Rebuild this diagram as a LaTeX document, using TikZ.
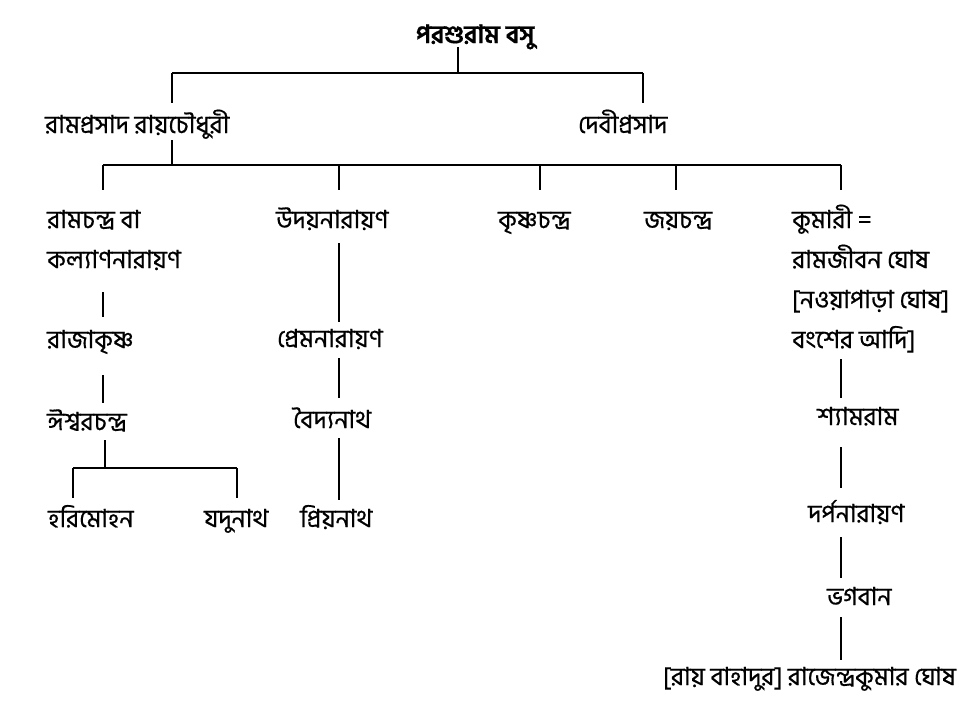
\documentclass[tikz,border=0pt]{standalone}
\usepackage{fontspec}
\newfontfamily\bn[Script=Bengali, FakeBold=0.6]{Hind Siliguri}
\begin{document}
\begin{tikzpicture}[x=1pt,y=-1pt,
  person/.style={font=\bn\fontsize{25}{40}\selectfont, inner sep=0pt, anchor=base west},
  link/.style={draw=black, line width=1.4pt}]
\useasboundingbox (0,0) rectangle (975,710);
% nodes
\node[person, anchor=base] (title) at (475,43) {\bfseries পরশুরাম বসু};
\node[person] (rp) at (45,133) {রামপ্রসাদ রায়চৌধুরী};
\node[person] (dp) at (578,133) {দেবীপ্রসাদ};
\node[person] (ram) at (47,228) {\begin{tabular}[t]{@{}l@{}}রামচন্দ্র বা\\কল্যাণনারায়ণ\end{tabular}};
\node[person] (uday) at (276,228) {উদয়নারায়ণ};
\node[person] (krish) at (498,228) {কৃষ্ণচন্দ্র};
\node[person] (jay) at (644,228) {জয়চন্দ্র};
\node[person] (kum) at (792,228) {\begin{tabular}[t]{@{}l@{}}কুমারী =\\রামজীবন ঘোষ\\{}[নওয়াপাড়া ঘোষ]\\বংশের আদি]\end{tabular}};
\node[person] (raja) at (47,348) {রাজাকৃষ্ণ};
\node[person] (ish) at (47,430) {ঈশ্বরচন্দ্র};
\node[person] (hari) at (48,527) {হরিমোহন};
\node[person] (jadu) at (204,527) {যদুনাথ};
\node[person] (prem) at (277,347) {প্রেমনারায়ণ};
\node[person] (baid) at (293,428) {বৈদ্যনাথ};
\node[person] (priy) at (300,527) {প্রিয়নাথ};
\node[person] (shyam) at (817,425) {শ্যামরাম};
\node[person] (darp) at (808,522) {দর্পনারায়ণ};
\node[person] (bhag) at (827,605) {ভগবান};
\node[person] (rajen) at (663,685) {[রায় বাহাদুর] রাজেন্দ্রকুমার ঘোষ};
% junctions
\coordinate (j0) at (458,73);
\coordinate (b0L) at (172,73);
\coordinate (b0R) at (643,73);
\coordinate (j1) at (172,165);
\coordinate (d1) at (103,165);
\coordinate (d2) at (339,165);
\coordinate (d3) at (540,165);
\coordinate (d4) at (676,165);
\coordinate (d5) at (841,165);
\coordinate (j2) at (105,468);
\coordinate (b2L) at (73,468);
\coordinate (b2R) at (237,468);
% level 0
\draw[link, shorten <=4pt] (j0 |- title.base) -- (j0);
\draw[link] (b0L) -- (b0R);
\draw[link, shorten >=30pt] (b0L) -- (b0L |- rp.base);
\draw[link, shorten >=30pt] (b0R) -- (b0R |- dp.base);
% level 1
\draw[link, shorten <=7pt] (j1 |- rp.base) -- (j1);
\draw[link] (d1) -- (d5);
\draw[link, shorten >=38pt] (d1) -- (d1 |- ram.base);
\draw[link, shorten >=38pt] (d2) -- (d2 |- uday.base);
\draw[link, shorten >=38pt] (d3) -- (d3 |- krish.base);
\draw[link, shorten >=38pt] (d4) -- (d4 |- jay.base);
\draw[link, shorten >=38pt] (d5) -- (d5 |- kum.base);
% left column
\draw[link, shorten <=64pt, shorten >=31pt] (d1 |- ram.base) -- (d1 |- raja.base);
\draw[link, shorten <=27pt, shorten >=27pt] (d1 |- raja.base) -- (d1 |- ish.base);
\draw[link, shorten <=10pt] (j2 |- ish.base) -- (j2);
\draw[link] (b2L) -- (b2R);
\draw[link, shorten >=29pt] (b2L) -- (b2L |- hari.base);
\draw[link, shorten >=29pt] (b2R) -- (b2R |- jadu.base);
% middle column
\draw[link, shorten <=15pt, shorten >=25pt] (d2 |- uday.base) -- (d2 |- prem.base);
\draw[link, shorten <=11pt, shorten >=30pt] (d2 |- prem.base) -- (d2 |- baid.base);
\draw[link, shorten <=10pt, shorten >=27pt] (d2 |- baid.base) -- (d2 |- priy.base);
% right column
\draw[link, shorten <=131pt, shorten >=27pt] (d5 |- kum.base) -- (d5 |- shyam.base);
\draw[link, shorten <=22pt, shorten >=34pt] (d5 |- shyam.base) -- (d5 |- darp.base);
\draw[link, shorten <=15pt, shorten >=27pt] (d5 |- darp.base) -- (d5 |- bhag.base);
\draw[link, shorten <=12pt, shorten >=25pt] (d5 |- bhag.base) -- (d5 |- rajen.base);
\end{tikzpicture}
\end{document}
